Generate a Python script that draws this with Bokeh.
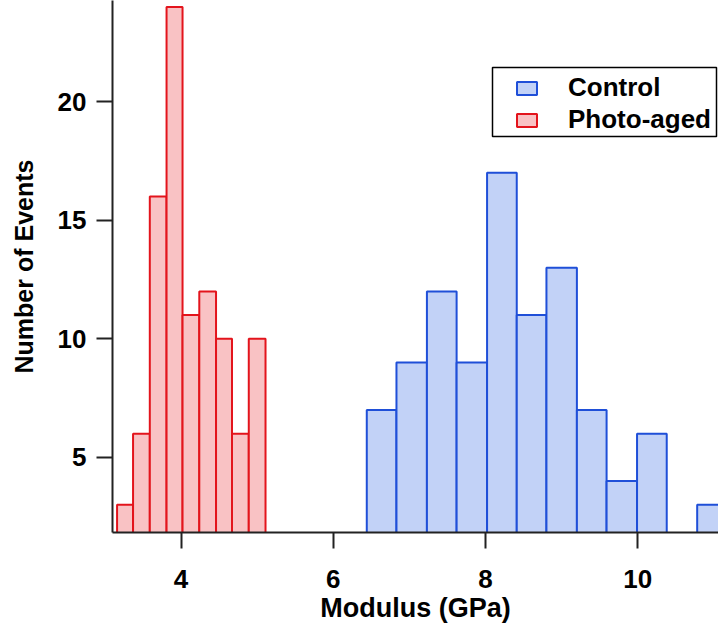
from bokeh.plotting import figure
from bokeh.models import Range1d, Legend, LegendItem, FixedTicker, BoxAnnotation
from bokeh.embed import file_html
from bokeh.resources import INLINE

# Histogram data
photo_edges = [3.16, 3.37, 3.59, 3.81, 4.02, 4.24, 4.46, 4.67, 4.89, 5.11]
photo_counts = [3, 6, 16, 24, 11, 12, 10, 6, 10]

control_edges = [6.44, 6.83, 7.23, 7.62, 8.02, 8.41, 8.80, 9.20, 9.59, 9.99, 10.38, 10.78, 11.17]
control_counts = [7, 9, 12, 9, 17, 11, 13, 7, 4, 6, 0, 3]

x_ticks = [4, 6, 8, 10]
y_ticks = [5, 10, 15, 20]

FONT = "Liberation Sans"

p = figure(width=718, height=630, output_backend="svg", toolbar_location=None,
           x_range=Range1d(3.10, 11.06), y_range=Range1d(1.83, 24.27),
           min_border_left=112, min_border_right=0, min_border_top=0, min_border_bottom=98)
p.outline_line_color = None
p.xgrid.visible = False
p.ygrid.visible = False
p.background_fill_color = "white"
p.border_fill_color = "white"

r_ctrl = p.quad(left=control_edges[:-1], right=control_edges[1:], bottom=0, top=control_counts,
                fill_color="#c2d2f7", line_color="#1f4fd8", line_width=2)
r_photo = p.quad(left=photo_edges[:-1], right=photo_edges[1:], bottom=0, top=photo_counts,
                 fill_color="#f9c2c4", line_color="#e3141c", line_width=2)

for ax in (p.xaxis[0], p.yaxis[0]):
    ax.axis_line_width = 2
    ax.axis_line_color = "#222222"
    ax.major_tick_line_width = 2
    ax.major_tick_line_color = "#222222"
    ax.major_tick_out = 16
    ax.major_tick_in = 0
    ax.minor_tick_line_color = None
    ax.major_label_text_font = FONT
    ax.major_label_text_font_style = "bold"
    ax.major_label_text_font_size = "26px"
    ax.major_label_text_color = "black"
    ax.axis_label_text_font = FONT
    ax.axis_label_text_font_style = "bold"
    ax.axis_label_text_color = "black"

p.xaxis.axis_label_text_font_size = "27px"
p.yaxis.axis_label_text_font_size = "25px"
p.xaxis.ticker = FixedTicker(ticks=x_ticks)
p.yaxis.ticker = FixedTicker(ticks=y_ticks)
p.xaxis.axis_label = "Modulus (GPa)"
p.yaxis.axis_label = "Number of Events"
p.xaxis.major_label_standoff = 21
p.yaxis.major_label_standoff = 10
p.xaxis.axis_label_standoff = 2
p.yaxis.axis_label_standoff = 17

# legend frame
frame = BoxAnnotation(left=492, right=716, top=67, bottom=136,
                      left_units="canvas", right_units="canvas",
                      top_units="canvas", bottom_units="canvas",
                      fill_color="white", fill_alpha=1,
                      line_color="black", line_alpha=1, line_width=1.5)
p.add_layout(frame)

legend = Legend(items=[LegendItem(label="Control", renderers=[r_ctrl]),
                       LegendItem(label="Photo-aged", renderers=[r_photo])],
                location=(402, 397))
legend.label_text_font = FONT
legend.label_text_font_style = "bold"
legend.label_text_font_size = "26px"
legend.label_text_color = "black"
legend.border_line_color = None
legend.background_fill_alpha = 0
legend.padding = 22
legend.spacing = 1
legend.margin = 0
legend.glyph_width = 25
legend.glyph_height = 16
legend.label_standoff = 29
legend.label_height = 22
p.add_layout(legend)

open("out.html", "w").write(file_html(p, INLINE))
